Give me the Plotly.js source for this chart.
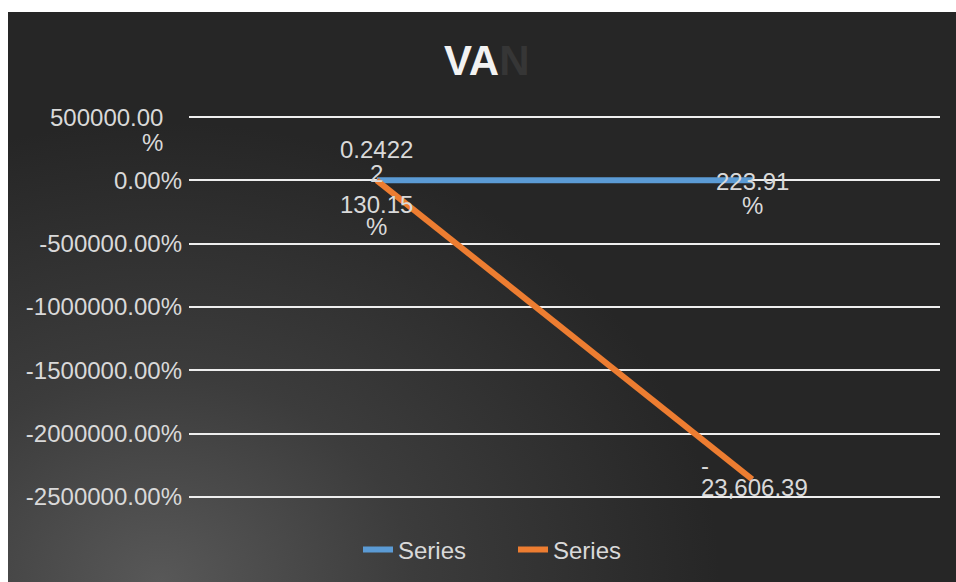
<!DOCTYPE html>
<html>
<head>
<meta charset="utf-8">
<script src="https://cdn.plot.ly/plotly-3.0.1.min.js"></script>
<style>
  html, body { margin: 0; padding: 0; background: #ffffff; width: 956px; height: 582px; overflow: hidden; }
  #chart {
    position: absolute; left: 8px; top: 12px; width: 948px; height: 570px;
    background: radial-gradient(ellipse 560px 460px at 16% 100%, #585858 0%, #3c3c3c 45%, #262626 100%);
  }
</style>
</head>
<body>
<div id="chart"></div>
<script>
// ---- data ----
const categories = ["Periodo 1", "Periodo 2"];
const seriesNames = ["Series", "Series"];
const blueValues = [0.24222, 2.2391];
const orangeValues = [1.3015, -23606.39];
const blueLabels = [["0.2422", "2"], ["223.91", "%"]];
const orangeLabels = [["130.15", "%"], ["-", "23,606.39"]];
const tickVals = [5000, 0, -5000, -10000, -15000, -20000, -25000];
const tickText = ["", "0.00%", "-500000.00%", "-1000000.00%", "-1500000.00%", "-2000000.00%", "-2500000.00%"];
const topTickLines = ["500000.00", "%"];

// ---- styles ----
const FONT = "Arial, 'Liberation Sans', sans-serif";
const TXT = "#d9d9d9";
const BLUE = "#5b9bd5";
const ORANGE = "#ed7d31";

const traces = [
  { type: "scatter", mode: "lines", name: seriesNames[0], x: categories, y: blueValues,
    line: { color: BLUE, width: 6 }, hoverinfo: "skip" },
  { type: "scatter", mode: "lines", name: seriesNames[1], x: categories, y: orangeValues,
    line: { color: ORANGE, width: 6 }, hoverinfo: "skip" }
];

// label line placement (pixel shifts, style only)
const blueShifts = [[31, 7], [-1, -25]];
const orangeShifts = [[-24, -46], [14, -8]];
const annotations = [];
function addLabels(vals, labels, shifts, leftAlignLast) {
  vals.forEach((v, i) => {
    labels[i].forEach((line, j) => {
      const a = { x: i, y: v, xref: "x", yref: "y", text: line, showarrow: false,
        font: { family: FONT, size: 24, color: TXT }, yanchor: "middle", yshift: shifts[i][j],
        xanchor: "center" };
      if (leftAlignLast && i === vals.length - 1) { a.xanchor = "left"; a.xshift = -53; }
      annotations.push(a);
    });
  });
}
addLabels(blueValues, blueLabels, blueShifts, false);
addLabels(orangeValues, orangeLabels, orangeShifts, true);
// wrapped top tick label
topTickLines.forEach((line, j) => {
  annotations.push({ x: 0, xref: "paper", y: tickVals[0], yref: "y", text: line, showarrow: false,
    xanchor: "right", xshift: -24, yanchor: "middle", yshift: j === 0 ? 0 : -25,
    font: { family: FONT, size: 24, color: TXT } });
});

const layout = {
  width: 948, height: 570,
  paper_bgcolor: "rgba(0,0,0,0)",
  plot_bgcolor: "rgba(0,0,0,0)",
  margin: { l: 181, r: 16, t: 103, b: 83 },
  title: { text: 'VA<span style="color:#363636">N</span>', x: 0.505, xanchor: "center",
    y: 1 - 48 / 570, yanchor: "middle", yref: "container",
    font: { family: FONT, size: 42, color: "#f2f2f2", weight: "bold" } },
  xaxis: { type: "category", range: [-0.5, 1.5], showgrid: false, zeroline: false,
    showticklabels: false, showline: false, ticks: "" },
  yaxis: { range: [-25160, 5160], tickvals: tickVals, ticktext: tickText,
    showgrid: true, gridcolor: "#eeeeee", gridwidth: 2, zeroline: false, showline: false,
    ticks: "", ticklabelstandoff: 6,
    tickfont: { family: FONT, size: 24, color: TXT } },
  showlegend: true,
  legend: { orientation: "h", x: 350 / 948, xanchor: "left", xref: "container",
    y: 1 - 538 / 570, yanchor: "middle", yref: "container", entrywidth: 110, entrywidthmode: "pixels",
    font: { family: FONT, size: 24, color: TXT }, bgcolor: "rgba(0,0,0,0)" },
  annotations: annotations
};

Plotly.newPlot("chart", traces, layout, { displayModeBar: false, staticPlot: true });
</script>
</body>
</html>
